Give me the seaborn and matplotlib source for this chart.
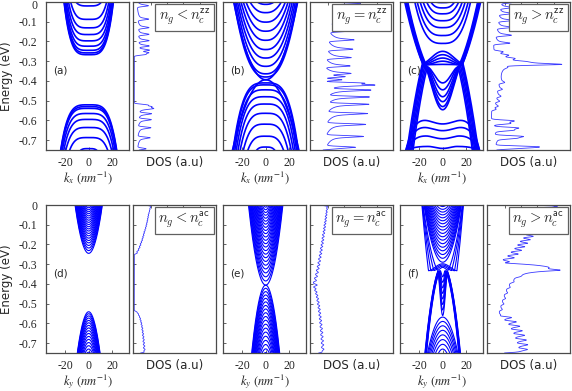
import numpy as np
import pandas as pd
import matplotlib
matplotlib.use('Agg')
import matplotlib.pyplot as plt
import matplotlib.transforms as mtransforms
import seaborn as sns

# ---- band data ----
# normal bands: energy at k=0 (eV) and |k| (nm^-1) where the band leaves the frame
# (a) zigzag, n_g < n_c
a_cond_E = [-0.267, -0.258, -0.245, -0.224, -0.197, -0.165, -0.131, -0.088, -0.020]
a_cond_k = [20.8, 20.6, 20.3, 19.8, 19.1, 18.2, 17.0, 15.2, 10.8]
a_val_E = [-0.521, -0.530, -0.539, -0.565, -0.595, -0.636, -0.687, -0.743]
a_val_k = [23.6, 23.4, 23.1, 22.2, 21.0, 19.3, 16.0, 6.5]

# (b) zigzag, n_g = n_c
b_touch_cE = [-0.394]
b_touch_ck = [27.0]
b_touch_vE = [-0.394]
b_touch_vk = [28.0]
b_cond_E = [-0.380, -0.364, -0.326, -0.284, -0.241, -0.194, -0.148, -0.102, -0.054, -0.012]
b_cond_k = [26.6, 26.1, 25.0, 23.8, 22.4, 20.8, 18.9, 16.6, 13.2, 7.0]
b_val_E = [-0.410, -0.420, -0.445, -0.480, -0.517, -0.564, -0.619, -0.680, -0.735]
b_val_k = [27.5, 27.0, 26.0, 24.8, 23.3, 21.5, 18.8, 15.0, 7.5]

# (c) zigzag, n_g > n_c
c_cond_E = [-0.003, -0.030, -0.060, -0.095, -0.130, -0.170, -0.210]
c_cond_k = [6.0, 10.0, 13.5, 16.5, 19.0, 21.5, 23.5]
# inverted bands: E at k=0, k of extremum, E of extremum, |k| leaving the frame
c_cinv_E0 = [-0.250, -0.267, -0.284, -0.300, -0.316]
c_cinv_k0 = [17.0, 16.0, 15.0, 14.0, 16.5]
c_cinv_Ex = [-0.310, -0.312, -0.315, -0.318, -0.318]
c_cinv_kc = [31.0, 30.5, 30.0, 29.5, 32.0]
c_vinv_E0 = [-0.546, -0.530, -0.505, -0.480, -0.445, -0.410]
c_vinv_k0 = [17.0, 16.5, 16.0, 15.0, 14.0, 13.0]
c_vinv_Ex = [-0.310, -0.313, -0.316, -0.320, -0.325, -0.330]
c_vinv_kc = [30.0, 29.0, 28.0, 27.0, 26.0, 25.0]
c_w_E0 = [-0.618, -0.652, -0.693, -0.742]
c_w_k0 = [15.0, 15.0, 14.0, 12.0]
c_w_Ex = [-0.600, -0.636, -0.679, -0.732]
c_w_kc = [31.0, 31.0, 30.5, 30.0]

# (d) armchair, n_g < n_c
d_cond_E = [-0.245, -0.231, -0.218, -0.205, -0.192, -0.180, -0.168, -0.156, -0.144, -0.132, -0.121,
            -0.110, -0.099, -0.088, -0.077, -0.066, -0.055, -0.044, -0.034, -0.024, -0.014, -0.005]
d_cond_k = [11.5, 11.3, 11.0, 10.7, 10.4, 10.1, 9.8, 9.5, 9.1, 8.7, 8.3,
            7.9, 7.5, 7.0, 6.5, 6.0, 5.4, 4.8, 4.2, 3.5, 2.7, 1.6]
d_val_E = [-0.541, -0.551, -0.562, -0.573, -0.585, -0.597, -0.610, -0.623, -0.637, -0.651, -0.666,
           -0.681, -0.697, -0.713, -0.730, -0.746]
d_val_k = [9.6, 9.4, 9.2, 8.9, 8.6, 8.3, 8.0, 7.6, 7.2, 6.7, 6.2, 5.6, 4.9, 4.1, 3.0, 1.4]

# (e) armchair, n_g = n_c
e_cond_E = [-0.406, -0.385, -0.364, -0.344, -0.324, -0.305, -0.286, -0.267, -0.249, -0.231, -0.213, -0.196,
            -0.179, -0.162, -0.145, -0.129, -0.113, -0.097, -0.082, -0.067, -0.052, -0.038, -0.024, -0.011]
e_cond_k = [14.5, 14.1, 13.7, 13.3, 12.9, 12.5, 12.1, 11.7, 11.3, 10.8, 10.3, 9.8,
            9.3, 8.8, 8.3, 7.8, 7.2, 6.6, 6.0, 5.3, 4.6, 3.8, 2.9, 1.8]
e_val_E = [-0.406, -0.422, -0.439, -0.456, -0.473, -0.491, -0.509, -0.527, -0.546, -0.565,
           -0.584, -0.604, -0.624, -0.644, -0.665, -0.686, -0.707, -0.729, -0.748]
e_val_k = [11.8, 11.5, 11.2, 10.9, 10.6, 10.3, 10.0, 9.6, 9.2, 8.8, 8.4, 7.9, 7.4, 6.8, 6.1, 5.3, 4.3, 3.0, 1.0]

# (f) armchair, n_g > n_c
f_cond_E = [-0.290, -0.270, -0.251, -0.232, -0.214, -0.196, -0.178, -0.161, -0.144, -0.127, -0.111,
            -0.095, -0.080, -0.065, -0.050, -0.036, -0.022, -0.008]
f_cond_k = [15.8, 15.5, 15.2, 14.8, 14.4, 14.0, 13.5, 13.0, 12.5, 11.9, 11.3, 10.6, 9.8, 9.0, 8.0, 6.8, 5.3, 3.0]
f_val_E = [-0.568, -0.590, -0.612, -0.635, -0.658, -0.682, -0.706, -0.730]
f_val_k = [12.8, 12.0, 11.1, 10.1, 9.0, 7.7, 6.0, 3.5]
f_cinv_E0 = [-0.298, -0.304, -0.310, -0.316]
f_cinv_k0 = [12.0, 10.0, 7.5, 4.5]
f_cinv_Ex = [-0.333, -0.333, -0.332, -0.331]
f_cinv_kc = [17.5, 17.2, 16.9, 16.6]
f_vinv_E0 = [-0.560, -0.532, -0.504, -0.476, -0.448, -0.420, -0.392, -0.364]
f_vinv_k0 = [4.2, 4.0, 3.8, 3.5, 3.2, 2.9, 2.5, 2.0]
f_vinv_Ex = [-0.337, -0.336, -0.336, -0.335, -0.335, -0.334, -0.334, -0.333]
f_vinv_kc = [15.0, 14.8, 14.6, 14.4, 14.2, 14.0, 13.8, 13.6]

legend_txt = [r'$n_g < n_c^{\mathsf{zz}}$', r'$n_g = n_c^{\mathsf{zz}}$', r'$n_g > n_c^{\mathsf{zz}}$',
              r'$n_g < n_c^{\mathsf{ac}}$', r'$n_g = n_c^{\mathsf{ac}}$', r'$n_g > n_c^{\mathsf{ac}}$']
panel_tags = ['(a)', '(b)', '(c)', '(d)', '(e)', '(f)']
dos_frac = [0.24, 0.78, 0.9, 0.2, 0.2, 0.88]
E_top, E_bot = 0.0, -0.75

panels = [
    dict(normal=[(a_cond_E, a_cond_k, E_top, 4), (a_val_E, a_val_k, E_bot, 4)], inv=[]),
    dict(normal=[(b_touch_cE, b_touch_ck, E_top, 2), (b_touch_vE, b_touch_vk, E_bot, 2),
                 (b_cond_E, b_cond_k, E_top, 2.5), (b_val_E, b_val_k, E_bot, 3.5)], inv=[]),
    dict(normal=[(c_cond_E, c_cond_k, E_top, 3)],
         inv=[(c_cinv_E0, c_cinv_k0, c_cinv_Ex, c_cinv_kc, E_top, 1),
              (c_vinv_E0, c_vinv_k0, c_vinv_Ex, c_vinv_kc, E_bot, 1),
              (c_w_E0, c_w_k0, c_w_Ex, c_w_kc, E_bot, 2)]),
    dict(normal=[(d_cond_E, d_cond_k, E_top, 2), (d_val_E, d_val_k, E_bot, 2)], inv=[]),
    dict(normal=[(e_cond_E, e_cond_k, E_top, 2), (e_val_E, e_val_k, E_bot, 2)], inv=[]),
    dict(normal=[(f_cond_E, f_cond_k, E_top, 2), (f_val_E, f_val_k, E_bot, 2)],
         inv=[(f_cinv_E0, f_cinv_k0, f_cinv_Ex, f_cinv_kc, E_top, 1),
              (f_vinv_E0, f_vinv_k0, f_vinv_Ex, f_vinv_kc, E_bot, 1)]),
]


def normal_band(E0, kc, Eedge, p, k):
    return E0 + (Eedge - E0) * np.abs(k / kc) ** p


def inverted_band(E0, k0, Ex, kc, Eedge, q, k):
    x2 = (k / k0) ** 2
    c_out = (Eedge - Ex) / ((kc / k0) ** 2 - 1) ** q
    inner = Ex + (E0 - Ex) * (x2 - 1) ** 2
    outer = Ex + c_out * np.clip(x2 - 1, 0, None) ** q
    return np.where(x2 < 1, inner, outer)


def band_funcs(panel):
    out = []
    for Es, ks, edge, p in panel['normal']:
        for E0, kc in zip(Es, ks):
            out.append((kc, lambda k, E0=E0, kc=kc, edge=edge, p=p: normal_band(E0, kc, edge, p, k)))
    for E0s, k0s, Exs, kcs, edge, q in panel['inv']:
        for E0, k0, Ex, kc in zip(E0s, k0s, Exs, kcs):
            out.append((kc, lambda k, E0=E0, k0=k0, Ex=Ex, kc=kc, edge=edge, q=q:
                        inverted_band(E0, k0, Ex, kc, edge, q, k)))
    return out


def dos_curve(funcs):
    edges = np.linspace(-0.78, 0.03, 1621)
    width = edges[1] - edges[0]
    hist = np.zeros(len(edges) - 1)
    for kc, f in funcs:
        k = np.linspace(-kc, kc, int(2 * kc / 0.004) + 1)
        dk = k[1] - k[0]
        h, _ = np.histogram(f(k), bins=edges)
        hist += h * dk / width
    g = np.arange(-30, 31)
    kern = np.exp(-0.5 * (g * width / 0.0035) ** 2)
    hist = np.convolve(hist, kern / kern.sum(), mode='same')
    Ec = 0.5 * (edges[1:] + edges[:-1])
    keep = (Ec >= -0.75) & (Ec <= 0)
    return Ec[keep], hist[keep]


sns.set_theme(style='ticks')
plt.rcParams['font.family'] = ['DejaVu Sans']
plt.rcParams['axes.unicode_minus'] = False
plt.rcParams['xtick.direction'] = 'in'
plt.rcParams['ytick.direction'] = 'in'

fig = plt.figure(figsize=(5.72, 3.91), dpi=100)
W, H = 572.0, 391.0
lefts = [46, 133, 223, 310, 400, 487]
tops = [2, 205]
aw, ah = 83, 148
yt = [0, -0.1, -0.2, -0.3, -0.4, -0.5, -0.6, -0.7]
ytl = ['0', '-0.1', '-0.2', '-0.3', '-0.4', '-0.5', '-0.6', '-0.7']
spine_col = '#4a4a4a'

for i, panel in enumerate(panels):
    row, col = divmod(i, 3)
    bottom = 1 - (tops[row] + ah) / H
    axb = fig.add_axes([lefts[2 * col] / W, bottom, aw / W, ah / H])
    axd = fig.add_axes([lefts[2 * col + 1] / W, bottom, aw / W, ah / H])

    funcs = band_funcs(panel)
    frames = []
    for j, (kc, f) in enumerate(funcs):
        k = np.linspace(-min(kc * 1.1, 40), min(kc * 1.1, 40), 500)
        frames.append(pd.DataFrame({'band': j, 'k': k, 'E': f(k)}))
    df = pd.concat(frames, ignore_index=True)
    lw = 1.2 if row == 0 else 0.8
    sns.lineplot(data=df, x='k', y='E', units='band', estimator=None, sort=False,
                 color='#0000ff', lw=lw, ax=axb, legend=False)

    Eg, dos = dos_curve(funcs)
    dd = pd.DataFrame({'dos': dos / dos.max() * dos_frac[i], 'E': Eg})
    sns.lineplot(data=dd, x='dos', y='E', estimator=None, sort=False,
                 color='#3a3aff', lw=0.6, ax=axd, legend=False)

    for ax in (axb, axd):
        ax.set_ylim(E_bot, E_top)
        ax.set_yticks(yt)
        for s in ax.spines.values():
            s.set_color(spine_col)
            s.set_linewidth(0.9)
        ax.tick_params(length=2.5, width=0.6, color=spine_col)
        ax.set_ylabel('')

    axb.set_xlim(-36, 34)
    axb.set_xticks([-20, 0, 20])
    axb.set_xticklabels(['-20', '0', '20'])
    axb.tick_params(axis='x', labelsize=8.5, pad=5, labelfontfamily='Liberation Serif', length=2)
    kx = r'$k_x\ (nm^{-1})$' if row == 0 else r'$k_y\ (nm^{-1})$'
    axb.set_xlabel(kx, fontsize=9, labelpad=0, math_fontfamily='stix')
    if col == 0:
        axb.set_yticklabels(ytl)
        axb.tick_params(axis='y', labelsize=8.5, pad=6, labelfontfamily='Liberation Serif')
        axb.set_ylabel('Energy (eV)', fontsize=8.5, labelpad=4)
        if row == 0:
            # nudge the top "0" label down so it stays inside the canvas
            lab0 = axb.get_yticklabels()[0]
            lab0.set_transform(lab0.get_transform() +
                               mtransforms.ScaledTranslation(0, -2.0 / 72, fig.dpi_scale_trans))
    else:
        axb.set_yticklabels([])
    axb.text(0.085, 0.54, panel_tags[i], transform=axb.transAxes, fontsize=7.5, va='center', ha='left')

    axd.set_xlim(-0.015, 1.0)
    axd.set_xticks([0.2, 0.4, 0.6, 0.8])
    axd.tick_params(axis='x', top=True, bottom=False, labelbottom=False, length=2)
    axd.set_yticklabels([])
    axd.set_xlabel('DOS (a.u)', fontsize=8.5, labelpad=4)
    axd.text(0.93, 0.895, legend_txt[i], transform=axd.transAxes, fontsize=10.5, ha='right', va='center',
             math_fontfamily='cm',
             bbox=dict(boxstyle='square,pad=0.25', fc='white', ec='#606060', lw=0.9))

fig.savefig('out.png', dpi=100)
